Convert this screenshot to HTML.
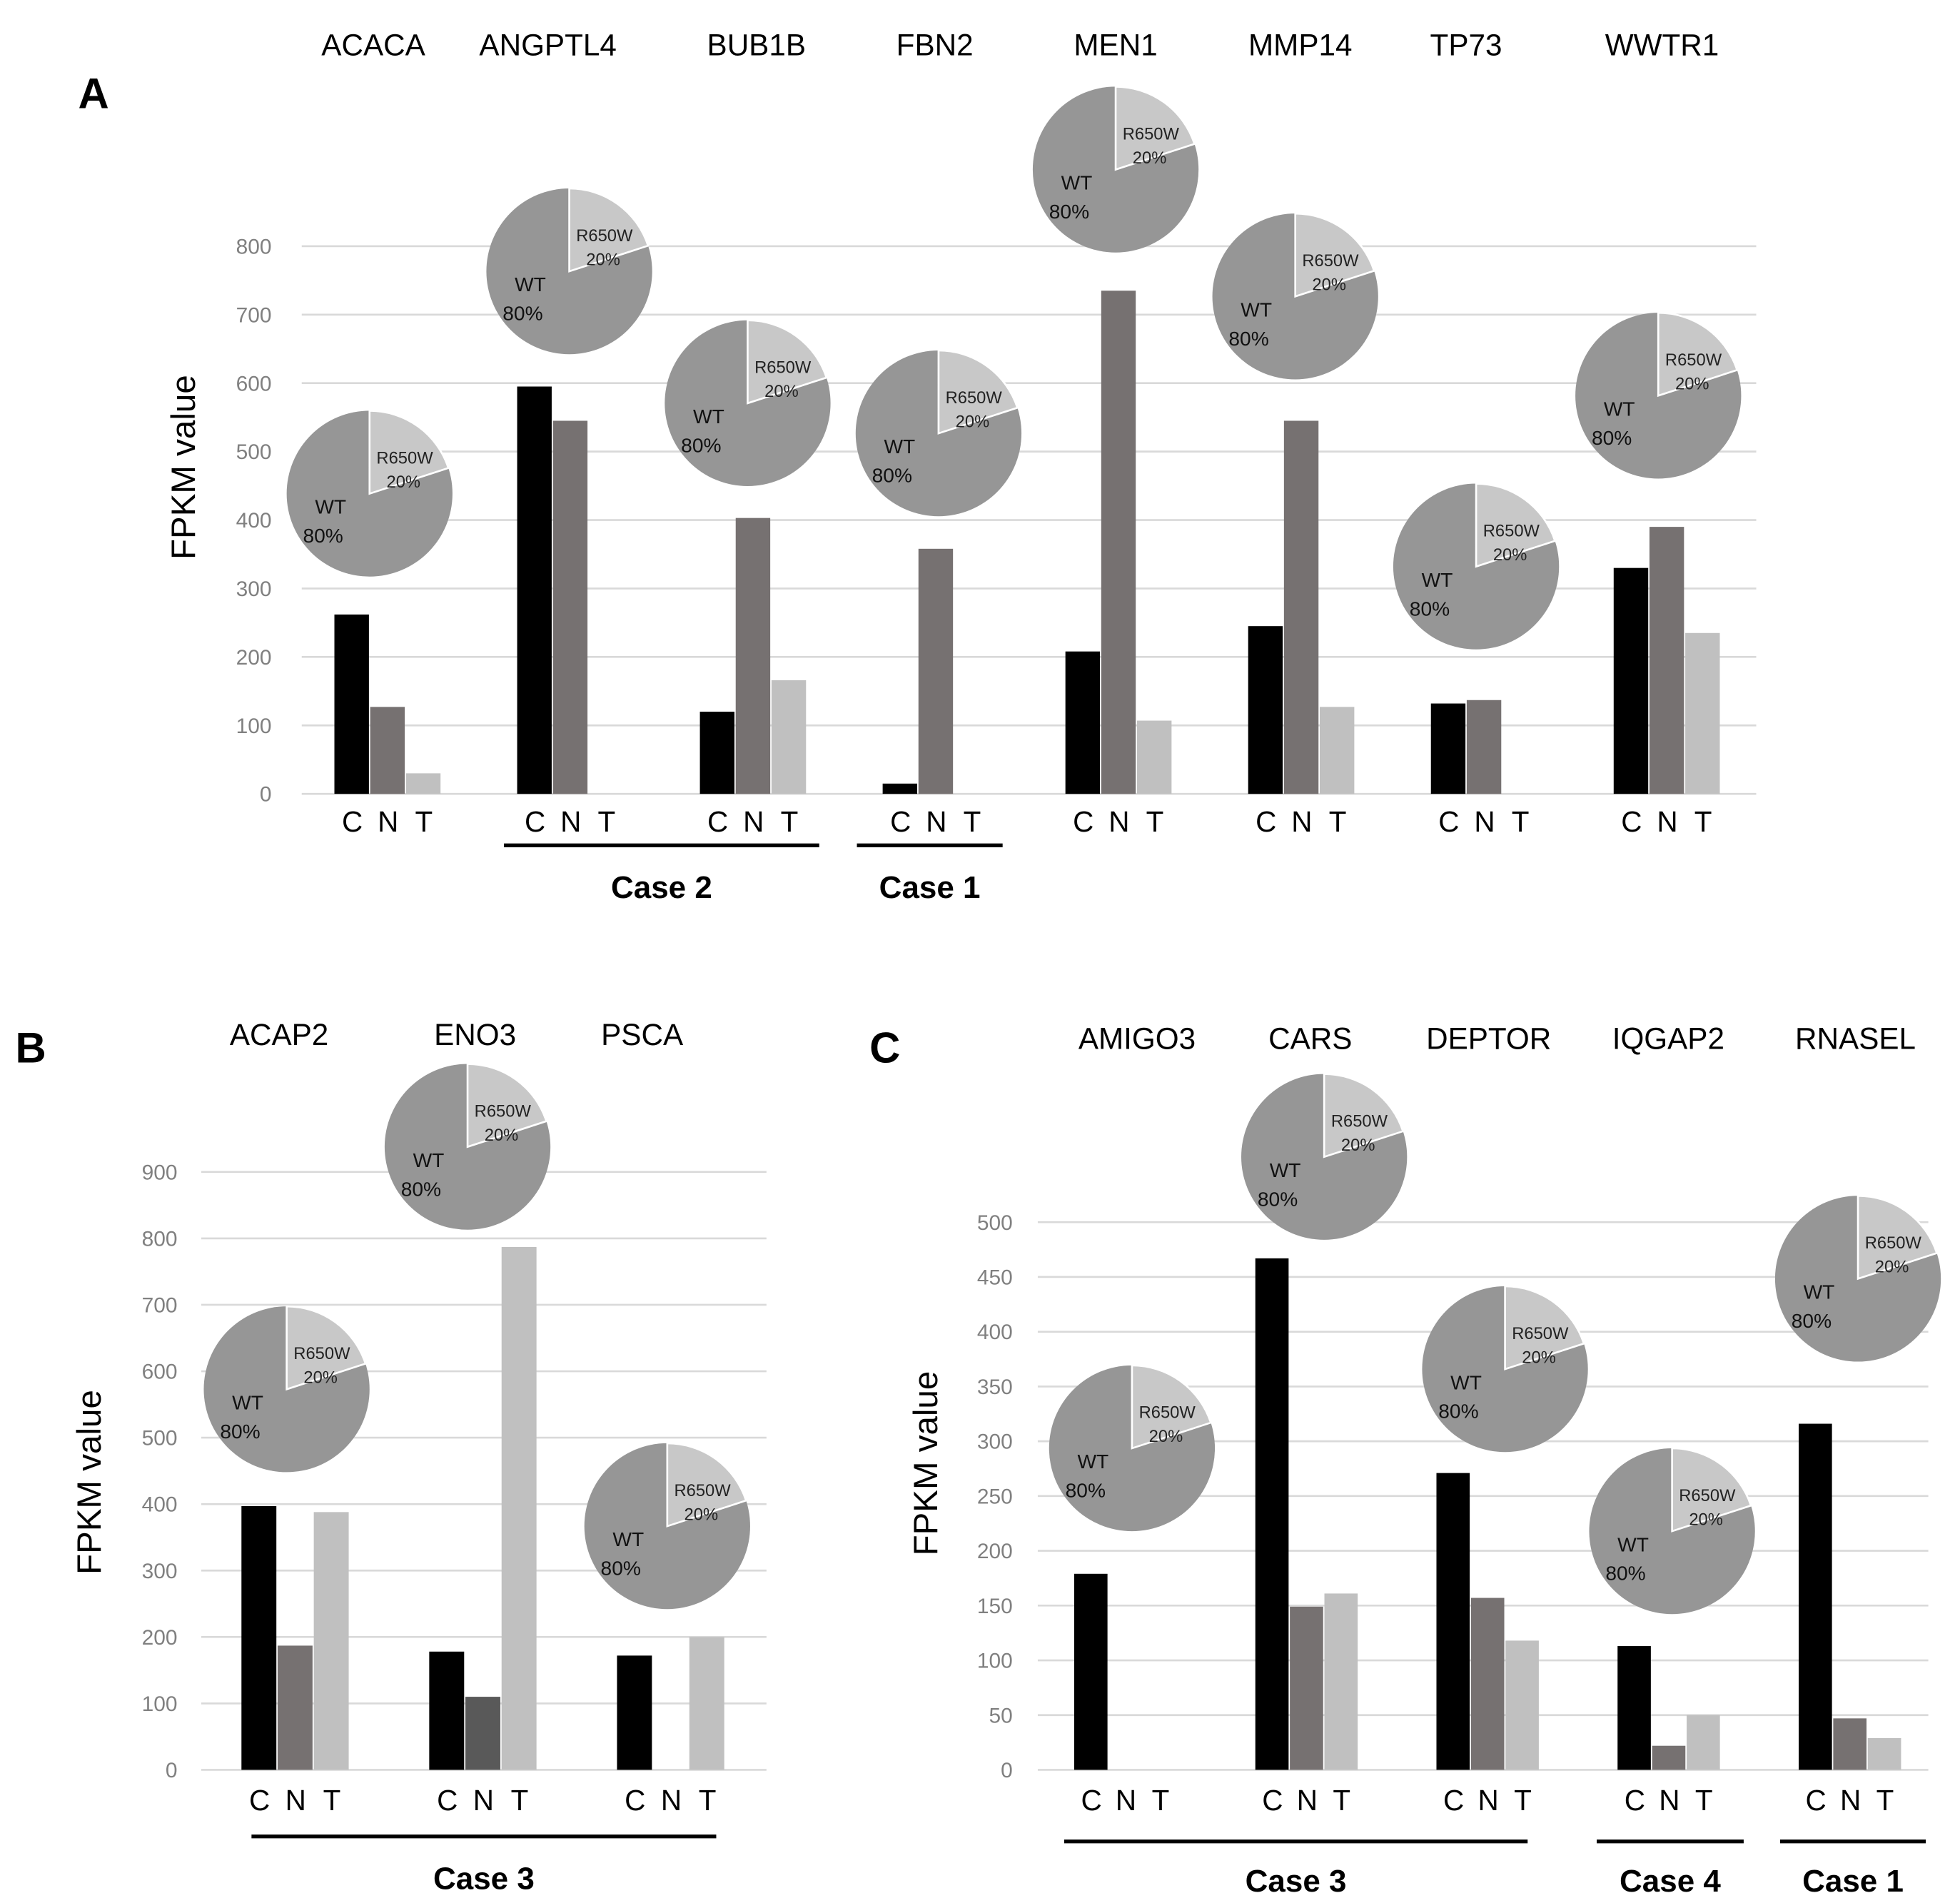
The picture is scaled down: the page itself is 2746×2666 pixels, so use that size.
<!DOCTYPE html>
<html><head><meta charset="utf-8"><style>
html,body{margin:0;padding:0;background:#fff}
svg{display:block;font-family:"Liberation Sans",sans-serif}
</style></head><body>
<svg id="fig" xmlns="http://www.w3.org/2000/svg" width="2746" height="2666" viewBox="0 0 1560 1515">
<rect width="1560" height="1515" fill="#fff"/>
</svg>
<script>
const aGenes=["ACACA","ANGPTL4","BUB1B","FBN2","MEN1","MMP14","TP73","WWTR1"];
const aC=[262,595,120,15,208,245,132,330];
const aN=[127,545,403,358,735,545,137,390];
const aT=[30,0,166,0,107,127,0,235];
const aTicks=[0,100,200,300,400,500,600,700,800];
const aPieVal=[80,80,80,80,80,80,80,80];

const bGenes=["ACAP2","ENO3","PSCA"];
const bC=[397,178,172];
const bN=[187,110,0];
const bT=[388,787,200];
const bTicks=[0,100,200,300,400,500,600,700,800,900];
const bPieVal=[80,80,80];

const cGenes=["AMIGO3","CARS","DEPTOR","IQGAP2","RNASEL"];
const cC=[179,467,271,113,316];
const cN=[0,149,157,22,47];
const cT=[0,161,118,50,29];
const cTicks=[0,50,100,150,200,250,300,350,400,450,500];
const cPieVal=[80,80,80,80,80];

const NS="http://www.w3.org/2000/svg";
const svg=document.getElementById('fig');
function mk(tag,attrs,parent,text){const e=document.createElementNS(NS,tag);for(const k in attrs)e.setAttribute(k,attrs[k]);if(text!==undefined)e.textContent=text;(parent||svg).appendChild(e);return e;}

function panel(cfg){
  const g=mk('g',{});
  
  
  const y=v=>cfg.y0-(v-0)*(cfg.y0-cfg.yTop)/(cfg.ticks[cfg.ticks.length-1]);
  const x=i=>cfg.x0+i*cfg.step;
  cfg.ticks.forEach(t=>{
    const l=mk('line',{x1:cfg.gx1,x2:cfg.gx2,y1:y(t),y2:y(t),stroke:'#d9d9d9','stroke-width':1.5},g);
    
    
    const tx=mk('text',{x:cfg.tickX,y:y(t)+6,'text-anchor':'end','font-size':17,fill:'#808080'},g,String(t));
    
    
  });
  const yl=mk('text',{x:0,y:0,transform:`translate(${cfg.ylX},${cfg.ylY}) rotate(-90)`,'text-anchor':'middle','font-size':27,fill:'#000'},g,'FPKM value');
  
  
  const pl=mk('text',{x:cfg.letter[1],y:cfg.letter[2],'font-size':34,'font-weight':'bold'},g,cfg.letter[0]);
  
  
  const series=[[cfg.C,'#000000'],[cfg.N,'#767171'],[cfg.T,'#c0c0c0']];
  cfg.genes.forEach((gn,i)=>{
    const gx=mk('text',{x:cfg.labelX[i],y:cfg.labelY,'text-anchor':'middle','font-size':24},g,gn);
    
    
    series.forEach((s,j)=>{
      const v=s[0][i];
      let col=s[1];
      if(cfg.darkN&&cfg.darkN[i]&&j===1)col='#595959';
      if(v>0){
        const r=mk('rect',{x:x(i)+j*cfg.bw,y:y(v),width:cfg.bw-1,height:cfg.y0-y(v),fill:col},g);
        
        
      }
      const lt=mk('text',{x:x(i)+j*cfg.bw+cfg.bw/2,y:cfg.cntY,'text-anchor':'middle','font-size':23},g,['C','N','T'][j]);
      
      
    });
    // pie
    const [cx,cy]=cfg.pies[i];const R=66;
    const wt=cfg.pieVal[i]/100;
    const a=(1-wt)*2*Math.PI;
    const ex=cx+R*Math.sin(a),ey=cy-R*Math.cos(a);
    const pg=mk('g',{},g);
    
    
    mk('circle',{cx,cy,r:R,fill:'#969696'},pg);
    mk('path',{d:`M${cx},${cy} L${cx},${cy-R} A${R},${R} 0 ${a>Math.PI?1:0} 1 ${ex},${ey} Z`,fill:'#c8c8c8',stroke:'#fff','stroke-width':1.5},pg);
    mk('text',{x:cx+28,y:cy-24,'text-anchor':'middle','font-size':13.5,fill:'#222'},pg,'R650W');
    mk('text',{x:cx+27,y:cy-5,'text-anchor':'middle','font-size':13.5,fill:'#222'},pg,Math.round(100-cfg.pieVal[i])+'%');
    mk('text',{x:cx-31,y:cy+16,'text-anchor':'middle','font-size':16,fill:'#111'},pg,'WT');
    mk('text',{x:cx-37,y:cy+39,'text-anchor':'middle','font-size':16,fill:'#111'},pg,cfg.pieVal[i]+'%');
  });
  cfg.cases.forEach(c=>{
    const l=mk('line',{x1:c[0],x2:c[1],y1:cfg.caseLineY,y2:cfg.caseLineY,stroke:'#000','stroke-width':3},g);
    
    
    const t=mk('text',{x:(c[0]+c[1])/2,y:cfg.caseY,'text-anchor':'middle','font-size':25,'font-weight':'bold'},g,c[2]);
    
    
  });
}

panel({name:'panel-a',genes:aGenes,C:aC,N:aN,T:aT,ticks:aTicks,pieVal:aPieVal,
  y0:632,yTop:196,x0:266,step:145.5,bw:28.5,gx1:240,gx2:1398,tickX:216,
  ylX:155,ylY:372,letter:['A',62,86],labelY:44,
  labelX:[297,436,602,744,888,1035,1167,1323],cntY:662,
  pies:[[294,393],[453,216],[595,321],[747,345],[888,135],[1031,236],[1175,451],[1320,315]],
  caseLineY:673,caseY:715,cases:[[401,652,'Case 2'],[682,798,'Case 1']]});

panel({name:'panel-b',genes:bGenes,C:bC,N:bN,T:bT,ticks:bTicks,pieVal:bPieVal,darkN:[false,true,false],
  y0:1409,yTop:933,x0:192,step:149.5,bw:28.8,gx1:160,gx2:610,tickX:141,
  ylX:80,ylY:1180,letter:['B',12,846],labelY:832,
  labelX:[222,378,511],cntY:1441,
  pies:[[228,1106],[372,913],[531,1215]],
  caseLineY:1462,caseY:1504,cases:[[200,570,'Case 3']]});

panel({name:'panel-c',genes:cGenes,C:cC,N:cN,T:cT,ticks:cTicks,pieVal:cPieVal,
  y0:1409,yTop:973,x0:855,step:144.2,bw:27.5,gx1:826,gx2:1535,tickX:806,
  ylX:746,ylY:1165,letter:['C',692,846],labelY:835,
  labelX:[905,1043,1185,1328,1477],cntY:1441,
  pies:[[901,1153],[1054,921],[1198,1090],[1331,1219],[1479,1018]],
  caseLineY:1466,caseY:1506,cases:[[847,1216,'Case 3'],[1271,1388,'Case 4'],[1417,1533,'Case 1']]});
</script>
</body></html>
